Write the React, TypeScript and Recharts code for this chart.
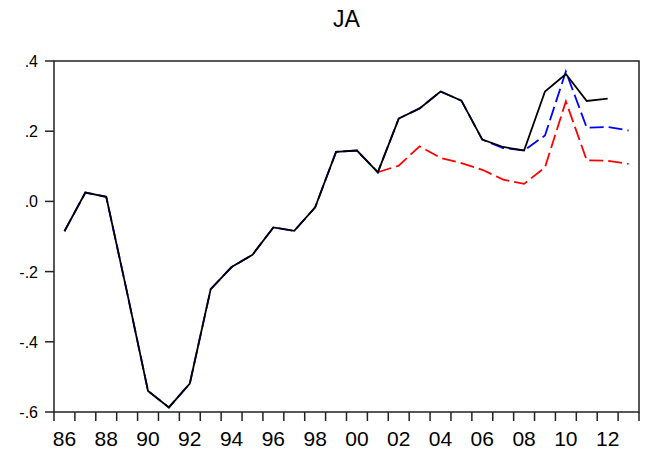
import React from 'react';
import { LineChart, Line, XAxis, YAxis, ReferenceArea } from 'recharts';

const years = [1986, 1987, 1988, 1989, 1990, 1991, 1992, 1993, 1994, 1995, 1996, 1997, 1998, 1999, 2000, 2001, 2002, 2003, 2004, 2005, 2006, 2007, 2008, 2009, 2010, 2011, 2012, 2013];

// actual series (black), ends 2012
const actual = [-0.085, 0.025, 0.013, -0.26, -0.54, -0.587, -0.519, -0.25, -0.187, -0.152, -0.074, -0.084, -0.017, 0.141, 0.145, 0.083, 0.236, 0.265, 0.313, 0.287, 0.176, 0.155, 0.145, 0.313, 0.363, 0.286, 0.293, null];

// forecast 1 (blue dashed)
const forecastBlue = [-0.085, 0.025, 0.013, -0.26, -0.54, -0.587, -0.519, -0.25, -0.187, -0.152, -0.074, -0.084, -0.017, 0.141, 0.145, 0.083, 0.236, 0.265, 0.313, 0.287, 0.176, 0.152, 0.145, 0.188, 0.37, 0.21, 0.212, 0.202];

// forecast 2 (red dashed), starts 2001
const forecastRed = [null, null, null, null, null, null, null, null, null, null, null, null, null, null, null, 0.083, 0.102, 0.157, 0.124, 0.109, 0.09, 0.062, 0.05, 0.097, 0.285, 0.117, 0.116, 0.107];

const yTicks = [-0.6, -0.4, -0.2, 0, 0.2, 0.4];
const xBoundaries = years.map((y) => y - 0.5).concat([years[years.length - 1] + 0.5]);

const data = years.map((year, i) => ({
  year,
  actual: actual[i],
  blue: forecastBlue[i],
  red: forecastRed[i],
}));

const W = 645;
const H = 452;
const LEFT = 54;
const RIGHT = 6;
const plotW = W - LEFT - RIGHT;
const halfYear = plotW / (xBoundaries.length - 1) / 2;

const font = '"Liberation Sans", Arial, sans-serif';
const axisColor = '#222';

function fmtY(v: number): string {
  if (v === 0) return '.0';
  return v.toFixed(1).replace('0.', '.');
}

// tick marks on year boundaries, labels in the middle of even years
function XTick(props: any) {
  const { x, y, payload } = props;
  const yr = Math.round(payload.value + 0.5);
  return (
    <g>
      <line x1={x} y1={y} x2={x} y2={y + 9} stroke={axisColor} strokeWidth={1.5} />
      {yr % 2 === 0 && yr <= 2013 ? (
        <text x={x + halfYear} y={y + 34} textAnchor="middle" fontSize={21} fontFamily={font} fill="#000">
          {String(yr % 100).padStart(2, '0')}
        </text>
      ) : null}
    </g>
  );
}

function YTick(props: any) {
  const { x, y, payload } = props;
  return (
    <g>
      <line x1={x - 9} y1={y} x2={x} y2={y} stroke={axisColor} strokeWidth={1.5} />
      <text x={x - 16} y={y + 6} textAnchor="end" fontSize={16} fontFamily={font} fill="#000">
        {fmtY(payload.value)}
      </text>
    </g>
  );
}

export default function App() {
  return (
    <div style={{ position: 'absolute', left: 0, top: 0, width: W, height: H, background: '#fff' }}>
      <div style={{ position: 'absolute', left: 0, width: LEFT + plotW, top: 7, textAlign: 'center', paddingLeft: LEFT, boxSizing: 'border-box', fontFamily: font, fontSize: 23, lineHeight: 1.117, color: '#000' }}>
        JA
      </div>
      <LineChart width={W} height={H} data={data} margin={{ top: 61, right: RIGHT, bottom: 0, left: 0 }}>
        <XAxis
          dataKey="year"
          type="number"
          domain={[1985.5, 2013.5]}
          ticks={xBoundaries}
          interval={0}
          height={40}
          tick={<XTick />}
          tickSize={0}
          tickMargin={0}
          tickLine={false}
          axisLine={false}
        />
        <YAxis
          type="number"
          domain={[-0.6, 0.4]}
          ticks={yTicks}
          interval={0}
          width={LEFT}
          tick={<YTick />}
          tickSize={0}
          tickMargin={0}
          tickLine={false}
          axisLine={false}
        />
        <ReferenceArea x1={1985.5} x2={2013.5} y1={-0.6} y2={0.4} fill="none" fillOpacity={0} stroke={axisColor} strokeWidth={1.5} ifOverflow="visible" />
        <Line dataKey="red" stroke="#ff0000" strokeWidth={1.8} strokeDasharray="14 5" dot={false} isAnimationActive={false} connectNulls={false} />
        <Line dataKey="blue" stroke="#0000ff" strokeWidth={1.8} strokeDasharray="14 5" dot={false} isAnimationActive={false} />
        <Line dataKey="actual" stroke="#000000" strokeWidth={1.8} dot={false} isAnimationActive={false} connectNulls={false} />
      </LineChart>
    </div>
  );
}
